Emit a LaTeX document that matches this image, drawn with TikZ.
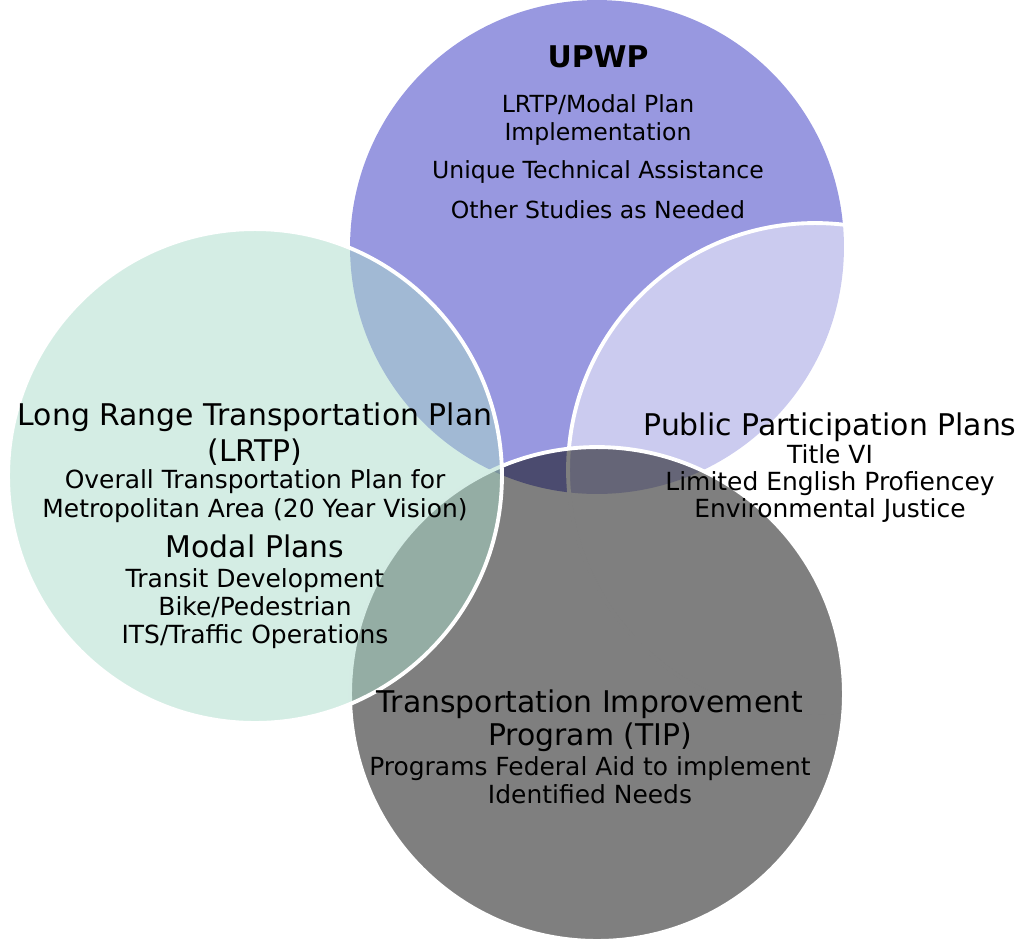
\documentclass[tikz,border=0pt]{standalone}
\usepackage{fontspec}
\setmainfont{DejaVu Sans}
\usepackage{xcolor}
\usepackage{tikz}

\definecolor{upwpblue}{RGB}{152,152,224}
\definecolor{lrtpgreen}{RGB}{170,219,202}

\begin{document}
\begin{tikzpicture}[
			x=0.02cm, y=-0.02cm,
			every node/.style={inner sep=0pt, anchor=base},
			ring/.style={draw=white, line width=2.2pt},
			head/.style={font=\fontsize{17}{20}\selectfont},
			sub/.style={font=\fontsize{14.2}{17}\selectfont},
			item/.style={font=\fontsize{13.4}{16}\selectfont}
			]

			\def\r{4.94cm}

			\useasboundingbox (0,0) rectangle (1025,938);

			% the four circles, back to front
			\fill[upwpblue] (597,247) circle[radius=\r];
			\draw[ring, fill=white, fill opacity=0.5] (815,470) circle[radius=\r];
			\draw[ring, fill=black, fill opacity=0.5] (597,694) circle[radius=\r];
			\draw[ring, fill=lrtpgreen, fill opacity=0.5] (255,476) circle[radius=\r];

			% UPWP
			\node[font=\fontsize{17}{20}\bfseries] (upwp) at (598,67) {UPWP};
			\node[item] (upwpa) at (598,112) {LRTP/Modal Plan};
			\node[item] (upwpb) at (598,140) {Implementation};
			\node[item] (upwpc) at (598,178) {Unique Technical Assistance};
			\node[item] (upwpd) at (598,218) {Other Studies as Needed};

			% LRTP
			\node[head] (lrtp) at (255,425) {Long Range Transportation Plan};
			\node[head] (lrtpb) at (255,461) {(LRTP)};
			\node[sub] (lrtpc) at (255,488) {Overall Transportation Plan for};
			\node[sub] (lrtpd) at (255,517) {Metropolitan Area (20 Year Vision)};
			\node[head] (modal) at (255,557) {Modal Plans};
			\node[sub] (modala) at (255,587) {Transit Development};
			\node[sub] (modalb) at (255,615) {Bike/Pedestrian};
			\node[sub] (modalc) at (255,643) {ITS/Traffic Operations};

			% public participation
			\node[head] (ppp) at (830,435) {Public Participation Plans};
			\node[sub] (pppa) at (830,463) {Title VI};
			\node[sub] (pppb) at (830,490) {Limited English Profiencey};
			\node[sub] (pppc) at (830,517) {Environmental Justice};

			% TIP
			\node[head] (tip) at (590,712) {Transportation Improvement};
			\node[head] (tipb) at (590,745) {Program (TIP)};
			\node[sub] (tipc) at (590,775) {Programs Federal Aid to implement};
			\node[sub] (tipd) at (590,803) {Identified Needs};

			\end{tikzpicture}
\end{document}
